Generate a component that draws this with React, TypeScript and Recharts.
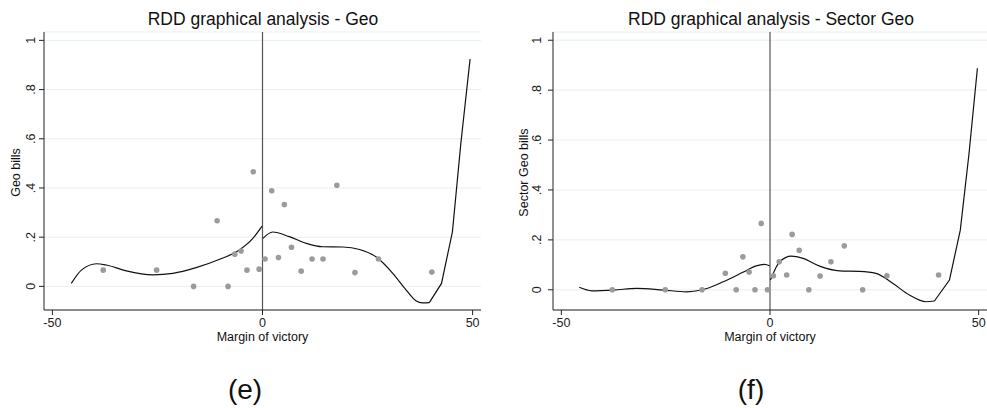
import {
  ComposedChart,
  Scatter,
  Line,
  XAxis,
  YAxis,
  CartesianGrid,
  ReferenceLine,
} from "recharts";

// binned means, panel (e)
const geoPoints = [
  { x: -37.9, y: 0.066 },
  { x: -25.2, y: 0.066 },
  { x: -16.4, y: 0 },
  { x: -10.8, y: 0.267 },
  { x: -8.2, y: 0 },
  { x: -6.6, y: 0.131 },
  { x: -5.1, y: 0.144 },
  { x: -3.7, y: 0.066 },
  { x: -2.2, y: 0.466 },
  { x: -0.8, y: 0.07 },
  { x: 0.6, y: 0.111 },
  { x: 2.2, y: 0.389 },
  { x: 3.8, y: 0.117 },
  { x: 5.2, y: 0.333 },
  { x: 6.9, y: 0.159 },
  { x: 9.2, y: 0.062 },
  { x: 11.8, y: 0.111 },
  { x: 14.4, y: 0.111 },
  { x: 17.7, y: 0.411 },
  { x: 22.0, y: 0.056 },
  { x: 27.6, y: 0.111 },
  { x: 40.3, y: 0.058 },
];

const geoFitLeft = [
  { x: -45.5, y: 0.012 },
  { x: -43.1, y: 0.066 },
  { x: -39.5, y: 0.092 },
  { x: -37.2, y: 0.087 },
  { x: -32.4, y: 0.063 },
  { x: -26.1, y: 0.047 },
  { x: -21.3, y: 0.053 },
  { x: -15.8, y: 0.076 },
  { x: -10.2, y: 0.11 },
  { x: -5.5, y: 0.148 },
  { x: -2.3, y: 0.195 },
  { x: -0.1, y: 0.245 },
];

const geoFitRight = [
  { x: 0.1, y: 0.195 },
  { x: 2.4, y: 0.221 },
  { x: 6.4, y: 0.202 },
  { x: 10.4, y: 0.175 },
  { x: 14.3, y: 0.161 },
  { x: 19.1, y: 0.16 },
  { x: 23.1, y: 0.15 },
  { x: 27.0, y: 0.12 },
  { x: 31.0, y: 0.053 },
  { x: 34.2, y: -0.015 },
  { x: 36.5, y: -0.058 },
  { x: 38.1, y: -0.067 },
  { x: 39.7, y: -0.066 },
];

// coarse grid at the far right, drawn as straight segments
const geoFitTail = [
  { x: 39.7, y: -0.066 },
  { x: 42.6, y: 0.012 },
  { x: 45.2, y: 0.222 },
  { x: 47.2, y: 0.581 },
  { x: 49.4, y: 0.924 },
];

// binned means, panel (f)
const sectorPoints = [
  { x: -37.8, y: 0 },
  { x: -25.1, y: 0 },
  { x: -16.3, y: 0 },
  { x: -10.7, y: 0.066 },
  { x: -8.1, y: 0 },
  { x: -6.5, y: 0.132 },
  { x: -5.0, y: 0.071 },
  { x: -3.6, y: 0 },
  { x: -2.1, y: 0.266 },
  { x: -0.6, y: 0 },
  { x: 0.8, y: 0.056 },
  { x: 2.2, y: 0.112 },
  { x: 4.0, y: 0.059 },
  { x: 5.3, y: 0.222 },
  { x: 7.0, y: 0.158 },
  { x: 9.3, y: 0 },
  { x: 12.0, y: 0.055 },
  { x: 14.6, y: 0.112 },
  { x: 17.8, y: 0.176 },
  { x: 22.2, y: 0 },
  { x: 28.0, y: 0.056 },
  { x: 40.4, y: 0.059 },
];

const sectorFitLeft = [
  { x: -45.7, y: 0.01 },
  { x: -42.7, y: -0.004 },
  { x: -37.5, y: -0.001 },
  { x: -31.9, y: 0.006 },
  { x: -25.6, y: -0.001 },
  { x: -20.0, y: -0.008 },
  { x: -16.4, y: -0.001 },
  { x: -11.2, y: 0.032 },
  { x: -6.5, y: 0.07 },
  { x: -3.3, y: 0.096 },
  { x: -1.3, y: 0.102 },
  { x: -0.1, y: 0.096 },
];

const sectorFitRight = [
  { x: 0.1, y: 0.039 },
  { x: 2.3, y: 0.112 },
  { x: 5.1, y: 0.135 },
  { x: 7.9, y: 0.126 },
  { x: 11.9, y: 0.095 },
  { x: 16.7, y: 0.076 },
  { x: 21.4, y: 0.074 },
  { x: 25.4, y: 0.066 },
  { x: 29.4, y: 0.026 },
  { x: 33.4, y: -0.021 },
  { x: 37.4, y: -0.048 },
  { x: 39.4, y: -0.045 },
];

const sectorFitTail = [
  { x: 39.4, y: -0.045 },
  { x: 43.0, y: 0.039 },
  { x: 45.6, y: 0.239 },
  { x: 47.7, y: 0.547 },
  { x: 49.7, y: 0.888 },
];

const xTicks = [-50, 0, 50];
const yTicks = [0, 0.2, 0.4, 0.6, 0.8, 1];

const font = "'Liberation Sans', Arial, sans-serif";

const fmtY = (v: number) => (v === 0 ? "0" : v === 1 ? "1" : String(v).replace("0.", "."));

const makeYTick = (dx: number) => (props: any) => {
  const { x, y, payload } = props;
  const cx = x - dx;
  return (
    <text
      x={cx}
      y={y}
      transform={`rotate(-90 ${cx} ${y})`}
      textAnchor="middle"
      dominantBaseline="central"
      fontSize={12.5}
      fontFamily={font}
      fill="#222"
    >
      {fmtY(payload.value)}
    </text>
  );
};

const dot = (p: any) => <circle cx={p.cx} cy={p.cy} r={2.8} fill="#9b9b9b" />;

type Pt = { x: number; y: number };

interface PanelProps {
  points: Pt[];
  fitLeft: Pt[];
  fitRight: Pt[];
  fitTail: Pt[];
  width: number;
  rightMargin: number;
  yAxisWidth: number;
  yDomain: [number, number];
  tickDx: number;
}

function Panel({ points, fitLeft, fitRight, fitTail, width, rightMargin, yAxisWidth, yDomain, tickDx }: PanelProps) {
  return (
    <ComposedChart width={width} height={340} margin={{ top: 32, right: rightMargin, bottom: 0, left: 0 }}>
      <CartesianGrid vertical={false} stroke="#e6eff0" />
      <XAxis
        type="number"
        dataKey="x"
        domain={[-52, 52]}
        ticks={xTicks}
        allowDataOverflow
        height={30}
        tickSize={5}
        tickMargin={3}
        stroke="#222"
        tick={{ fontSize: 12.5, fill: "#222", fontFamily: font }}
      />
      <YAxis
        type="number"
        dataKey="y"
        domain={yDomain}
        ticks={yTicks}
        allowDataOverflow
        width={yAxisWidth}
        tickSize={5}
        stroke="#222"
        tick={makeYTick(tickDx)}
      />
      <ReferenceLine x={0} stroke="#555" strokeWidth={1.2} />
      <Scatter data={points} dataKey="y" shape={dot} isAnimationActive={false} />
      <Line data={fitLeft} dataKey="y" type="monotone" stroke="#111" strokeWidth={1.2} dot={false} isAnimationActive={false} />
      <Line data={fitRight} dataKey="y" type="monotone" stroke="#111" strokeWidth={1.2} dot={false} isAnimationActive={false} />
      <Line data={fitTail} dataKey="y" type="linear" stroke="#111" strokeWidth={1.2} dot={false} isAnimationActive={false} />
    </ComposedChart>
  );
}

const textBox = (cx: number, cy: number, size: number, w = 400): React.CSSProperties => ({
  position: "absolute",
  left: cx - w / 2,
  top: cy - size * 0.6,
  width: w,
  height: size * 1.2,
  lineHeight: `${size * 1.2}px`,
  textAlign: "center",
  fontSize: size,
  fontFamily: font,
  color: "#111",
  whiteSpace: "nowrap",
});

export default function App() {
  return (
    <div style={{ position: "absolute", left: 0, top: 0, width: 987, height: 408, background: "#fff", overflow: "hidden" }}>
      <div style={{ position: "absolute", left: 0, top: 0 }}>
        <Panel
          points={geoPoints}
          fitLeft={geoFitLeft}
          fitRight={geoFitRight}
          fitTail={geoFitTail}
          width={490}
          rightMargin={9}
          yAxisWidth={44}
          yDomain={[-0.096, 1.034]}
          tickDx={6}
        />
      </div>
      <div style={{ position: "absolute", left: 495, top: 0 }}>
        <Panel
          points={sectorPoints}
          fitLeft={sectorFitLeft}
          fitRight={sectorFitRight}
          fitTail={sectorFitTail}
          width={492}
          rightMargin={0}
          yAxisWidth={58}
          yDomain={[-0.081, 1.033]}
          tickDx={9}
        />
      </div>

      <div style={textBox(263, 19.5, 17.5)}>RDD graphical analysis - Geo</div>
      <div style={textBox(771, 19.5, 17.5)}>RDD graphical analysis - Sector Geo</div>

      <div style={{ ...textBox(15.7, 172, 12.5, 200), transform: "rotate(-90deg)" }}>Geo bills</div>
      <div style={{ ...textBox(524, 172, 12.5, 200), transform: "rotate(-90deg)" }}>Sector Geo bills</div>

      <div style={textBox(262.5, 337, 12.5, 200)}>Margin of victory</div>
      <div style={textBox(770, 337, 12.5, 200)}>Margin of victory</div>

      <div style={textBox(245, 390, 28, 100)}>(e)</div>
      <div style={textBox(751, 390, 28, 100)}>(f)</div>
    </div>
  );
}
